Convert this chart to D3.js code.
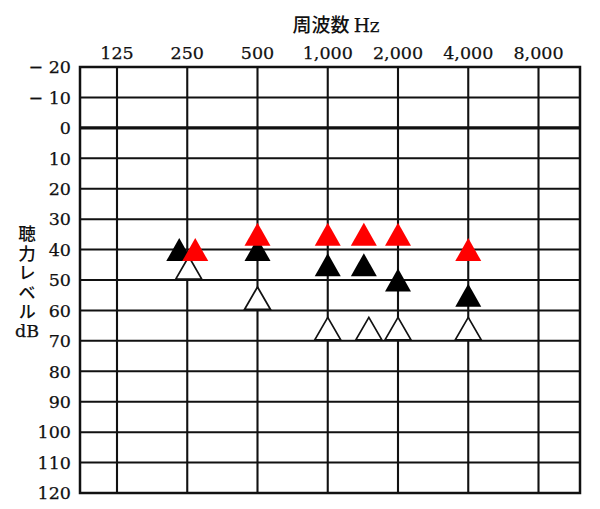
<!DOCTYPE html>
<html>
<head>
<meta charset="utf-8">
<script src="https://cdn.jsdelivr.net/npm/d3@7"></script>
<style>
  html, body { margin: 0; padding: 0; background: #fff; }
  svg { display: block; }
</style>
</head>
<body>
<svg id="chart" width="600" height="509"></svg>
<script>
// ---- data ----
const freqTicks = [125, 250, 500, 1000, 2000, 4000, 8000];
const freqLabels = ["125", "250", "500", "1,000", "2,000", "4,000", "8,000"];
const dbTicks = [-20, -10, 0, 10, 20, 30, 40, 50, 60, 70, 80, 90, 100, 110, 120];
const dbLabels = ["− 20", "− 10", "0", "10", "20", "30", "40", "50", "60", "70", "80", "90", "100", "110", "120"];

const redFreqs = [250, 500, 1000, 1500, 2000, 4000];
const redValues = [40, 35, 35, 35, 35, 40];
const blackFreqs = [250, 500, 1000, 1500, 2000, 4000];
const blackValues = [40, 40, 45, 45, 50, 55];
const openFreqs = [250, 500, 1000, 1500, 2000, 4000];
const openValues = [45, 55, 65, 65, 65, 65];

const titleCJK = "周波数";
const titleUnit = "Hz";
const yTitleCJK = "聴力レベル";
const yTitleUnit = "dB";

// ---- layout / style ----
const plot = { left: 80, right: 580, top: 67, bottom: 493 };
const serif = "'DejaVu Serif', serif";
const cjk = "'Noto Sans CJK JP', sans-serif";
const nudge = { black: { 250: -8, 1500: -5 }, red: { 250: 8, 1500: -5 }, open: { 250: 1.5 } };
const textStroke = 0.25;

const svg = d3.select("#chart");
const x = d3.scaleLog().base(2).domain([125, 8000]).range([117, 538.5]);
const y = d3.scaleLinear().domain([-20, 120]).range([plot.top, plot.bottom]);

// horizontal gridlines
svg.append("g").selectAll("line").data(dbTicks).join("line")
  .attr("x1", plot.left).attr("x2", plot.right)
  .attr("y1", d => y(d)).attr("y2", d => y(d))
  .attr("stroke", "#111")
  .attr("stroke-width", d => d === 0 ? 3.4 : 2);

// vertical gridlines
svg.append("g").selectAll("line").data(freqTicks).join("line")
  .attr("x1", d => x(d)).attr("x2", d => x(d))
  .attr("y1", plot.top).attr("y2", plot.bottom)
  .attr("stroke", "#111").attr("stroke-width", 2.1);

// border
svg.append("rect")
  .attr("x", plot.left).attr("y", plot.top)
  .attr("width", plot.right - plot.left).attr("height", plot.bottom - plot.top)
  .attr("fill", "none").attr("stroke", "#111").attr("stroke-width", 2.5);

// top axis labels
svg.append("g").selectAll("text").data(freqTicks).join("text")
  .attr("x", d => x(d)).attr("y", 59)
  .attr("text-anchor", "middle")
  .attr("font-family", serif).attr("font-size", 17.5).attr("fill", "#111")
  .attr("stroke", "#111").attr("stroke-width", textStroke)
  .text((d, i) => freqLabels[i]);

// left axis labels
svg.append("g").selectAll("text").data(dbTicks).join("text")
  .attr("x", 71).attr("y", d => y(d))
  .attr("dy", "0.36em")
  .attr("text-anchor", "end")
  .attr("font-family", serif).attr("font-size", 17.5).attr("fill", "#111")
  .attr("stroke", "#111").attr("stroke-width", textStroke)
  .attr("xml:space", "preserve")
  .text((d, i) => dbLabels[i]);

// title
const t = svg.append("text").attr("x", 336).attr("y", 32)
  .attr("text-anchor", "middle").attr("fill", "#111");
t.append("tspan").attr("font-family", cjk).attr("font-size", 19).attr("font-weight", 500).text(titleCJK + " ");
t.append("tspan").attr("font-family", serif).attr("font-size", 18.5)
  .attr("stroke", "#111").attr("stroke-width", textStroke).text(titleUnit);

// y title (vertical)
svg.append("text")
  .attr("x", 27).attr("y", 225)
  .attr("font-family", cjk).attr("font-size", 17.5).attr("font-weight", 500)
  .attr("fill", "#111")
  .style("writing-mode", "vertical-rl")
  .style("text-orientation", "upright")
  .style("letter-spacing", "2px")
  .text(yTitleCJK);
svg.append("text")
  .attr("x", 27).attr("y", 337)
  .attr("text-anchor", "middle")
  .attr("font-family", serif).attr("font-size", 17.5)
  .attr("stroke", "#111").attr("stroke-width", textStroke)
  .attr("fill", "#111")
  .text(yTitleUnit);

// triangle path centered on bbox
function tri(w, h) {
  return `M0,${-h / 2}L${w / 2},${h / 2}L${-w / 2},${h / 2}Z`;
}

function drawSeries(freqs, values, key, fill, stroke, w, h, dy) {
  const pts = freqs.map((f, i) => ({ f, v: values[i] }));
  svg.append("g").selectAll("path").data(pts).join("path")
    .attr("d", tri(w, h))
    .attr("transform", d => `translate(${x(d.f) + ((nudge[key] || {})[d.f] || 0)},${y(d.v) + dy})`)
    .attr("fill", fill)
    .attr("stroke", stroke)
    .attr("stroke-width", stroke === "none" ? 0 : 1.7)
    .attr("stroke-linejoin", "miter");
}

drawSeries(openFreqs, openValues, "open", "#fff", "#111", 26, 22.5, 3);
drawSeries(blackFreqs, blackValues, "black", "#000", "none", 26, 23, 0);
drawSeries(redFreqs, redValues, "red", "#ff0000", "none", 26, 23, 0);
</script>
</body>
</html>
